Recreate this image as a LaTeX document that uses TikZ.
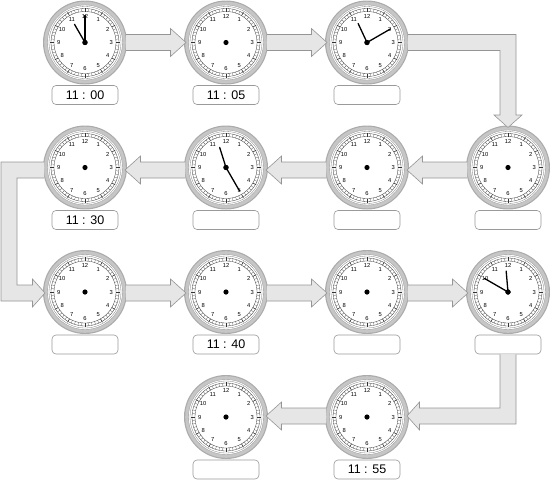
\documentclass[tikz,border=0pt]{standalone}
\usepackage{fontspec}
\setmainfont{Liberation Sans}
\usetikzlibrary{calc}
\definecolor{ringd}{HTML}{ABABAB}
\definecolor{ringc}{HTML}{C6C6C6}
\definecolor{ringe}{HTML}{A0A0A0}
\definecolor{arrf}{HTML}{E6E6E6}
\definecolor{arrl}{HTML}{959595}
\definecolor{boxl}{HTML}{9A9A9A}
\tikzset{
 clocknode/.style={circle, minimum size=84pt, inner sep=0pt},
 timebox/.style={draw=boxl, line width=0.6pt, rounded corners=4pt, minimum width=66pt, minimum height=19pt, inner sep=0pt, fill=white, font=\fontsize{12.5}{14}\selectfont},
 arrfill/.style={fill=arrf},
 arrline/.style={draw=arrl, line width=0.6pt, line join=miter},
 hand/.style={line width=1.3pt, line cap=round},
 numfont/.style={font=\fontsize{5.8}{6}\selectfont, inner sep=0pt},
}
\newcommand{\clockface}[2]{%
 \node[clocknode] (#1) at (#2) {};
 \begin{scope}[shift={(#1.center)}]
  \fill[ringd] (0,0) circle (42pt);
  \fill[ringc] (0,0) circle (40.8pt);
  \fill[white, draw=ringe, line width=0.4pt] (0,0) circle (37.5pt);
  \draw[gray, line width=0.3pt] (0,0) circle (36pt);
  \draw[black!80, line width=0.3pt] (0,0) circle (34pt);
  \draw[black!80, line width=0.3pt] (0,0) circle (31pt);
  \foreach \i in {0,...,59} \draw[black!70, line width=0.25pt] ({6*\i}:31) -- ({6*\i}:34);
  \foreach \i in {0,...,11} \draw[black!80, line width=0.4pt] ({30*\i}:31) -- ({30*\i}:35);
  \foreach \n in {1,...,12} \node[numfont] at ({-90+30*\n}:26.3) {\n};
  \fill (0,0) circle (2.6pt);
 \end{scope}
}
\newcommand{\hands}[3]{%
 \draw[hand] (#1.center) -- ++({#2}:21);
 \draw[hand] (#1.center) -- ++({#3}:27);
 \fill (#1.center) circle (2.6pt);
}
\newcommand{\harr}[4]{%
 \fill[arrfill] ($(#1)+({41*#3},{#4-8})$) -- ($(#2)+({-55.5*#3},{#4-8})$) -- ($(#2)+({-55.5*#3},{#4-14})$) -- ($(#2)+({-40*#3},{#4})$) -- ($(#2)+({-55.5*#3},{#4+14})$) -- ($(#2)+({-55.5*#3},{#4+8})$) -- ($(#1)+({41*#3},{#4+8})$) -- cycle;
 \draw[arrline] ($(#1)+({41*#3},{#4-8})$) -- ($(#2)+({-55.5*#3},{#4-8})$) -- ($(#2)+({-55.5*#3},{#4-14})$) -- ($(#2)+({-40*#3},{#4})$) -- ($(#2)+({-55.5*#3},{#4+14})$) -- ($(#2)+({-55.5*#3},{#4+8})$) -- ($(#1)+({41*#3},{#4+8})$);
}
\begin{document}
\begin{tikzpicture}[x=1pt,y=-1pt]
\useasboundingbox (0,0) rectangle (550,480);
% clocks
\clockface{c1}{85,42.5}
\clockface{c2}{226,42.5}
\clockface{c3}{367,42.5}
\clockface{c4}{508,167.5}
\clockface{c5}{367,167.5}
\clockface{c6}{226,167.5}
\clockface{c7}{85,167.5}
\clockface{c8}{85,292}
\clockface{c9}{226,292}
\clockface{c10}{367,292}
\clockface{c11}{508,292}
\clockface{c12}{367,417}
\clockface{c13}{226,417}
% hands
\hands{c1}{240}{-90}
\hands{c3}{245}{-30}
\hands{c6}{252.5}{60}
\hands{c11}{265}{210}
% straight arrows
\harr{c1}{c2}{1}{0}
\harr{c2}{c3}{1}{0}
\harr{c4}{c5}{(-1)}{2.5}
\harr{c5}{c6}{(-1)}{2.5}
\harr{c6}{c7}{(-1)}{2.5}
\harr{c8}{c9}{1}{1}
\harr{c9}{c10}{1}{1}
\harr{c10}{c11}{1}{1}
\harr{c12}{c13}{(-1)}{-1}
% labels
\node[timebox] (l1) at ($(c1)+(0,52.5)$) {11 : 00};
\node[timebox] (l2) at ($(c2)+(0,52.5)$) {11 : 05};
\node[timebox] (l3) at ($(c3)+(0,52.5)$) {};
\node[timebox] (l4) at ($(c4)+(0,52.5)$) {};
\node[timebox] (l5) at ($(c5)+(0,52.5)$) {};
\node[timebox] (l6) at ($(c6)+(0,52.5)$) {};
\node[timebox] (l7) at ($(c7)+(0,52.5)$) {11 : 30};
\node[timebox] (l8) at ($(c8)+(0,52.5)$) {};
\node[timebox] (l9) at ($(c9)+(0,52.5)$) {11 : 40};
\node[timebox] (l10) at ($(c10)+(0,52.5)$) {};
\node[timebox] (l11) at ($(c11)+(0,52.5)$) {};
\node[timebox] (l12) at ($(c12)+(0,52.5)$) {11 : 55};
\node[timebox] (l13) at ($(c13)+(0,52.5)$) {};
% elbow arrow c3 -> c4
\fill[arrfill] ($(c3)+(41,-8)$) -- ($(c4.center |- c3.center)+(8,-8)$) -- ($(c4)+(8,-52.5)$) -- ($(c4)+(14,-52.5)$) -- ($(c4)+(0,-40)$) -- ($(c4)+(-14,-52.5)$) -- ($(c4)+(-8,-52.5)$) -- ($(c4.center |- c3.center)+(-8,8)$) -- ($(c3)+(41,8)$) -- cycle;
\draw[arrline] ($(c3)+(41,-8)$) -- ($(c4.center |- c3.center)+(8,-8)$) -- ($(c4)+(8,-52.5)$) -- ($(c4)+(14,-52.5)$) -- ($(c4)+(0,-40)$) -- ($(c4)+(-14,-52.5)$) -- ($(c4)+(-8,-52.5)$) -- ($(c4.center |- c3.center)+(-8,8)$) -- ($(c3)+(41,8)$);
% elbow arrow c7 -> c8
\fill[arrfill] ($(c7)+(-41,-5.5)$) -- ($(c7)+(-84,-5.5)$) -- ($(c8)+(-84,9)$) -- ($(c8)+(-52.5,9)$) -- ($(c8)+(-52.5,15)$) -- ($(c8)+(-40,1)$) -- ($(c8)+(-52.5,-13)$) -- ($(c8)+(-52.5,-7)$) -- ($(c8)+(-68,-7)$) -- ($(c7)+(-68,10.5)$) -- ($(c7)+(-41,10.5)$) -- cycle;
\draw[arrline] ($(c7)+(-41,-5.5)$) -- ($(c7)+(-84,-5.5)$) -- ($(c8)+(-84,9)$) -- ($(c8)+(-52.5,9)$) -- ($(c8)+(-52.5,15)$) -- ($(c8)+(-40,1)$) -- ($(c8)+(-52.5,-13)$) -- ($(c8)+(-52.5,-7)$) -- ($(c8)+(-68,-7)$) -- ($(c7)+(-68,10.5)$) -- ($(c7)+(-41,10.5)$);
% elbow arrow l11 -> c12
\fill[arrfill] ($(l11.south)+(-8,0)$) -- ($(l11.south)+(8,0)$) -- ($(c11.center |- c12.center)+(8,7)$) -- ($(c12)+(52.5,7)$) -- ($(c12)+(52.5,13)$) -- ($(c12)+(40,-1)$) -- ($(c12)+(52.5,-15)$) -- ($(c12)+(52.5,-9)$) -- ($(c11.center |- c12.center)+(-8,-9)$) -- cycle;
\draw[arrline] ($(l11.south)+(8,0)$) -- ($(c11.center |- c12.center)+(8,7)$) -- ($(c12)+(52.5,7)$) -- ($(c12)+(52.5,13)$) -- ($(c12)+(40,-1)$) -- ($(c12)+(52.5,-15)$) -- ($(c12)+(52.5,-9)$) -- ($(c11.center |- c12.center)+(-8,-9)$) -- ($(l11.south)+(-8,0)$);
\end{tikzpicture}
\end{document}
